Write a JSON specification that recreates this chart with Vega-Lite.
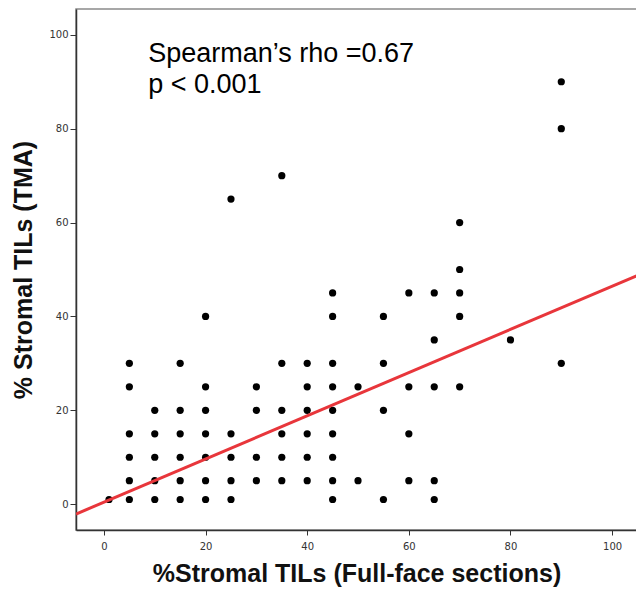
{
  "$schema": "https://vega.github.io/schema/vega-lite/v6.json",
  "width": 561,
  "height": 521,
  "autosize": "none",
  "padding": {"left": 76, "top": 9, "right": 0, "bottom": 63},
  "background": "white",
  "config": {
    "view": {"stroke": "#8a8a8a", "strokeWidth": 1.5},
    "axis": {
      "grid": false,
      "domainColor": "#333333",
      "domainWidth": 1.5,
      "tickColor": "#333333",
      "labelColor": "#333333",
      "labelFont": "DejaVu Sans",
      "labelFontSize": 10,
      "titleFont": "Liberation Sans",
      "titleFontSize": 25,
      "titleFontWeight": "bold",
      "titleColor": "#111111"
    }
  },
  "datasets": {
    "pts": [
      {"ff": 1, "tma": 1},
      {"ff": 5, "tma": 1}, {"ff": 5, "tma": 5}, {"ff": 5, "tma": 10}, {"ff": 5, "tma": 15}, {"ff": 5, "tma": 25}, {"ff": 5, "tma": 30},
      {"ff": 10, "tma": 1}, {"ff": 10, "tma": 5}, {"ff": 10, "tma": 10}, {"ff": 10, "tma": 15}, {"ff": 10, "tma": 20},
      {"ff": 15, "tma": 1}, {"ff": 15, "tma": 5}, {"ff": 15, "tma": 10}, {"ff": 15, "tma": 15}, {"ff": 15, "tma": 20}, {"ff": 15, "tma": 30},
      {"ff": 20, "tma": 1}, {"ff": 20, "tma": 5}, {"ff": 20, "tma": 10}, {"ff": 20, "tma": 15}, {"ff": 20, "tma": 20}, {"ff": 20, "tma": 25}, {"ff": 20, "tma": 40},
      {"ff": 25, "tma": 1}, {"ff": 25, "tma": 5}, {"ff": 25, "tma": 10}, {"ff": 25, "tma": 15}, {"ff": 25, "tma": 65},
      {"ff": 30, "tma": 5}, {"ff": 30, "tma": 10}, {"ff": 30, "tma": 20}, {"ff": 30, "tma": 25},
      {"ff": 35, "tma": 5}, {"ff": 35, "tma": 10}, {"ff": 35, "tma": 15}, {"ff": 35, "tma": 20}, {"ff": 35, "tma": 30}, {"ff": 35, "tma": 70},
      {"ff": 40, "tma": 5}, {"ff": 40, "tma": 10}, {"ff": 40, "tma": 15}, {"ff": 40, "tma": 20}, {"ff": 40, "tma": 25}, {"ff": 40, "tma": 30},
      {"ff": 45, "tma": 1}, {"ff": 45, "tma": 5}, {"ff": 45, "tma": 10}, {"ff": 45, "tma": 15}, {"ff": 45, "tma": 20}, {"ff": 45, "tma": 25}, {"ff": 45, "tma": 30}, {"ff": 45, "tma": 40}, {"ff": 45, "tma": 45},
      {"ff": 50, "tma": 5}, {"ff": 50, "tma": 25},
      {"ff": 55, "tma": 1}, {"ff": 55, "tma": 20}, {"ff": 55, "tma": 30}, {"ff": 55, "tma": 40},
      {"ff": 60, "tma": 5}, {"ff": 60, "tma": 15}, {"ff": 60, "tma": 25}, {"ff": 60, "tma": 45},
      {"ff": 65, "tma": 1}, {"ff": 65, "tma": 5}, {"ff": 65, "tma": 25}, {"ff": 65, "tma": 35}, {"ff": 65, "tma": 45},
      {"ff": 70, "tma": 25}, {"ff": 70, "tma": 40}, {"ff": 70, "tma": 45}, {"ff": 70, "tma": 50}, {"ff": 70, "tma": 60},
      {"ff": 80, "tma": 35},
      {"ff": 90, "tma": 30}, {"ff": 90, "tma": 80}, {"ff": 90, "tma": 90}
    ],
    "fit": [
      {"ff": -5.5, "tma": -2.1},
      {"ff": 104.9, "tma": 48.7}
    ],
    "notes": [
      {"ff": 8.7, "tma": 94.2, "label": "Spearman’s rho =0.67"},
      {"ff": 8.7, "tma": 87.6, "label": "p < 0.001"}
    ]
  },
  "layer": [
    {
      "data": {"name": "pts"},
      "mark": {"type": "circle", "size": 52, "color": "black", "opacity": 1},
      "encoding": {
        "x": {
          "field": "ff", "type": "quantitative",
          "scale": {"domain": [-5.5, 104.9], "nice": false, "zero": false},
          "axis": {"values": [0, 20, 40, 60, 80, 100], "tickSize": 5, "labelPadding": 6, "title": "%Stromal TILs (Full-face sections)", "titlePadding": 10}
        },
        "y": {
          "field": "tma", "type": "quantitative",
          "scale": {"domain": [-5.5, 105.5], "nice": false, "zero": false},
          "axis": {"values": [0, 20, 40, 60, 80, 100], "tickSize": 6, "labelPadding": 2, "title": "% Stromal TILs (TMA)", "titlePadding": 12}
        }
      }
    },
    {
      "data": {"name": "fit"},
      "mark": {"type": "line", "color": "#e8363b", "strokeWidth": 3, "clip": true},
      "encoding": {
        "x": {"field": "ff", "type": "quantitative"},
        "y": {"field": "tma", "type": "quantitative"}
      }
    },
    {
      "data": {"name": "notes"},
      "mark": {"type": "text", "align": "left", "baseline": "alphabetic", "font": "Liberation Sans", "fontSize": 27, "color": "black"},
      "encoding": {
        "x": {"field": "ff", "type": "quantitative"},
        "y": {"field": "tma", "type": "quantitative"},
        "text": {"field": "label"}
      }
    }
  ]
}
